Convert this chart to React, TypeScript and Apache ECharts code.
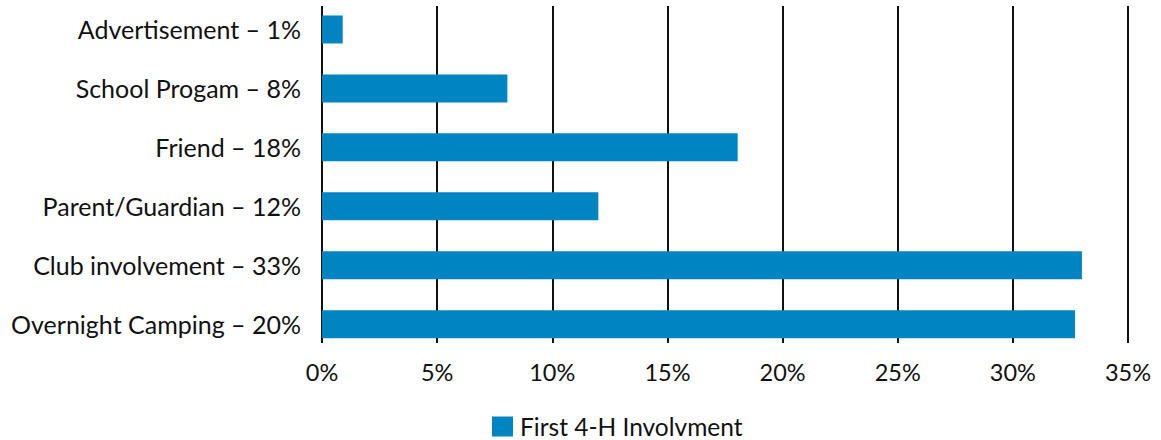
import React, { useEffect, useRef } from "react";
import * as echarts from "echarts";

const categories = [
  "Advertisement – 1%",
  "School Progam – 8%",
  "Friend – 18%",
  "Parent/Guardian – 12%",
  "Club involvement – 33%",
  "Overnight Camping – 20%",
];
const values = [0.9, 8.05, 18.05, 12.0, 33.0, 32.7];
const seriesName = "First 4-H Involvment";
const axisMin = 0;
const axisMax = 35;
const axisStep = 5;

export default function App() {
  const ref = useRef<HTMLDivElement>(null);
  useEffect(() => {
    document.body.style.margin = "0";
    const chart = echarts.init(ref.current!, null, { renderer: "svg" });
    const font = "Lato, 'Open Sans', sans-serif";
    chart.setOption({
      animation: false,
      backgroundColor: "#ffffff",
      grid: [
        { left: 322, right: 33, top: 6, height: 337 },
        { left: 322, right: 33, top: -1.6, height: 355.2 },
      ],
      xAxis: [
        {
          gridIndex: 0,
          type: "value",
          min: axisMin,
          max: axisMax,
          interval: axisStep,
          axisLine: { show: false },
          axisTick: { show: false },
          splitLine: { show: true, lineStyle: { color: "#111", width: 2 } },
          axisLabel: {
            formatter: "{value}%",
            color: "#111",
            fontSize: 23.5,
            fontFamily: font,
            margin: 17,
          },
        },
        {
          gridIndex: 1,
          type: "value",
          min: axisMin,
          max: axisMax,
          show: false,
        },
      ],
      yAxis: [
        {
          gridIndex: 0,
          type: "category",
          data: categories,
          show: false,
        },
        {
          gridIndex: 1,
          type: "category",
          data: categories,
          inverse: true,
          axisLine: { show: false },
          axisTick: { show: false },
          axisLabel: {
            color: "#111",
            fontSize: 25,
            fontFamily: font,
            margin: 21,
          },
        },
      ],
      legend: {
        left: 492,
        top: 414,
        padding: 0,
        itemWidth: 21,
        itemHeight: 20,
        itemGap: 10,
        icon: "rect",
        textStyle: {
          color: "#111",
          fontSize: 24.5,
          lineHeight: 20,
          fontFamily: font,
          padding: [0, 0, 0, 2],
        },
        data: [seriesName],
      },
      series: [
        {
          name: seriesName,
          type: "bar",
          xAxisIndex: 1,
          yAxisIndex: 1,
          data: values,
          barWidth: 28,
          itemStyle: { color: "#0084C2" },
        },
      ],
    });
    return () => chart.dispose();
  }, []);
  return <div ref={ref} style={{ width: 1161, height: 440 }} />;
}
